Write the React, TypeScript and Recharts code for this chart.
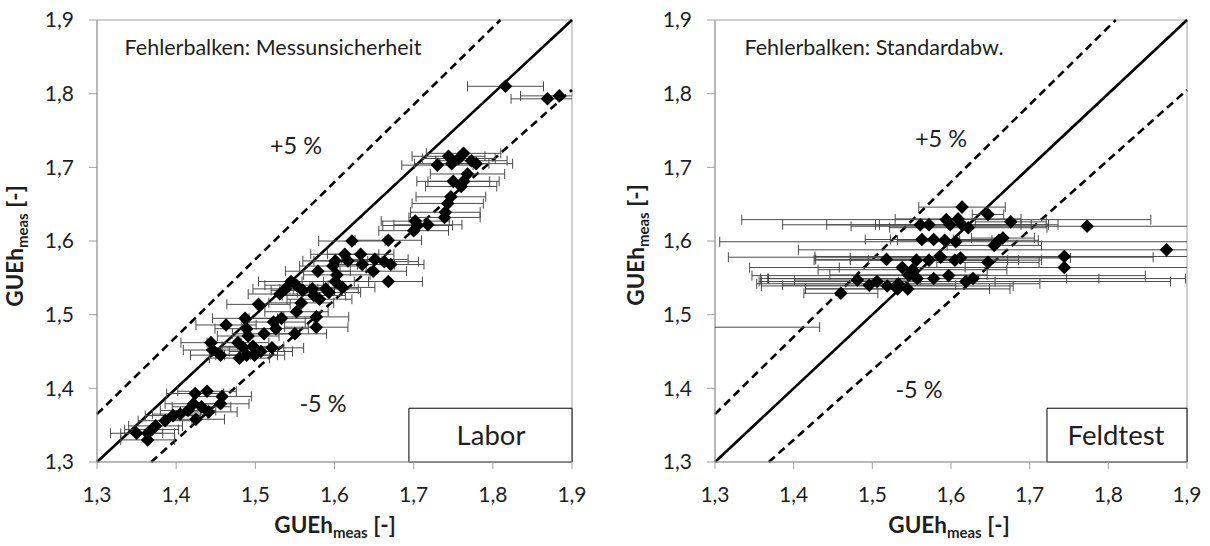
import { ScatterChart, Scatter, XAxis, YAxis, ErrorBar, ReferenceLine, ReferenceArea } from 'recharts';

const ticks = [1.3, 1.4, 1.5, 1.6, 1.7, 1.8, 1.9];

// Labor: GUEh (x), GUEh (y), x-uncertainty
const laborX = [
  1.816, 1.869, 1.884, 1.73, 1.744, 1.748, 1.757, 1.763, 1.773, 1.779, 1.768, 1.763, 1.75, 1.76, 1.747,
  1.743, 1.74, 1.739, 1.702, 1.705, 1.718, 1.7, 1.668, 1.622, 1.613, 1.633, 1.617, 1.651, 1.663, 1.671,
  1.601, 1.598, 1.635, 1.649, 1.668, 1.579, 1.603, 1.61, 1.601, 1.589, 1.593, 1.572, 1.574, 1.581, 1.56,
  1.545, 1.552, 1.538, 1.531, 1.558, 1.552, 1.577, 1.577, 1.55, 1.533, 1.523, 1.526, 1.504, 1.487, 1.463,
  1.489, 1.491, 1.511, 1.444, 1.446, 1.456, 1.478, 1.485, 1.497, 1.507, 1.48, 1.489, 1.499, 1.521, 1.424,
  1.439, 1.458, 1.456, 1.422, 1.432, 1.441, 1.415, 1.425, 1.405, 1.396, 1.386, 1.374, 1.364, 1.369, 1.35,
  1.364,
];
const laborY = [
  1.81, 1.793, 1.797, 1.703, 1.715, 1.705, 1.712, 1.719, 1.709, 1.705, 1.691, 1.681, 1.681, 1.674, 1.66,
  1.651, 1.639, 1.632, 1.627, 1.621, 1.622, 1.614, 1.601, 1.6, 1.582, 1.582, 1.573, 1.575, 1.572, 1.568,
  1.573, 1.566, 1.568, 1.559, 1.545, 1.559, 1.554, 1.537, 1.545, 1.535, 1.53, 1.535, 1.526, 1.521, 1.533,
  1.545, 1.54, 1.535, 1.528, 1.516, 1.504, 1.497, 1.483, 1.474, 1.495, 1.49, 1.481, 1.514, 1.495, 1.486,
  1.481, 1.471, 1.474, 1.462, 1.452, 1.445, 1.462, 1.455, 1.457, 1.45, 1.441, 1.445, 1.445, 1.455, 1.393,
  1.396, 1.389, 1.379, 1.379, 1.375, 1.368, 1.37, 1.358, 1.365, 1.363, 1.356, 1.349, 1.339, 1.344, 1.339,
  1.33,
];
const laborErr = [
  0.048, 0.046, 0.049, 0.045, 0.046, 0.047, 0.046, 0.047, 0.045, 0.046, 0.047, 0.045, 0.046, 0.045, 0.044,
  0.045, 0.044, 0.045, 0.043, 0.044, 0.043, 0.044, 0.042, 0.042, 0.043, 0.042, 0.043, 0.042, 0.043, 0.042,
  0.041, 0.042, 0.041, 0.042, 0.043, 0.041, 0.042, 0.041, 0.042, 0.041, 0.04, 0.041, 0.04, 0.041, 0.04,
  0.041, 0.04, 0.041, 0.04, 0.041, 0.04, 0.041, 0.04, 0.04, 0.041, 0.04, 0.041, 0.04, 0.041, 0.038,
  0.04, 0.039, 0.04, 0.038, 0.037, 0.038, 0.039, 0.038, 0.039, 0.04, 0.038, 0.039, 0.038, 0.04, 0.036,
  0.037, 0.037, 0.036, 0.036, 0.037, 0.036, 0.035, 0.036, 0.035, 0.035, 0.034, 0.034, 0.034, 0.034, 0.033,
  0.034,
];

// Feldtest: GUEh (x), GUEh (y), standard deviation in x
const feldX = [
  1.614, 1.647, 1.594, 1.609, 1.561, 1.572, 1.599, 1.614, 1.622, 1.676, 1.773, 1.563, 1.578, 1.592, 1.606,
  1.661, 1.666, 1.655, 1.874, 1.518, 1.556, 1.572, 1.587, 1.605, 1.612, 1.647, 1.744, 1.744, 1.538, 1.551,
  1.546, 1.481, 1.496, 1.506, 1.519, 1.533, 1.545, 1.557, 1.578, 1.597, 1.619, 1.628, 1.46, 1.532, 1.28,
];
const feldY = [
  1.646, 1.636, 1.629, 1.63, 1.622, 1.622, 1.622, 1.622, 1.618, 1.626, 1.62, 1.602, 1.602, 1.601, 1.599,
  1.601, 1.604, 1.594, 1.588, 1.575, 1.574, 1.574, 1.578, 1.574, 1.577, 1.571, 1.579, 1.564, 1.564, 1.561,
  1.554, 1.547, 1.54, 1.545, 1.539, 1.542, 1.535, 1.549, 1.549, 1.553, 1.545, 1.549, 1.529, 1.535, 1.483,
];
const feldErr = [
  0.055, 0.02, 0.26, 0.08, 0.175, 0.13, 0.09, 0.11, 0.1, 0.045, 0.3, 0.04, 0.087, 0.06, 0.3,
  0.05, 0.04, 0.06, 0.468, 0.09, 0.13, 0.1, 0.27, 0.11, 0.14, 0.065, 0.317, 0.4, 0.08, 0.12,
  0.1, 0.08, 0.11, 0.15, 0.16, 0.18, 0.13, 0.19, 0.21, 0.25, 0.26, 0.27, 0.047, 0.117, 0.153,
];

// 1:1 line and the +/-5 % band
const lineOne = [{ x: 1.3, y: 1.3 }, { x: 1.9, y: 1.9 }];
const linePlus = [{ x: 1.3, y: 1.365 }, { x: 1.8095, y: 1.9 }];
const lineMinus = [{ x: 1.3684, y: 1.3 }, { x: 1.9, y: 1.805 }];

const toRows = (xs: number[], ys: number[], es: number[]) => xs.map((x, i) => ({ x, y: ys[i], err: es[i] }));
const laborData = toRows(laborX, laborY, laborErr);
const feldData = toRows(feldX, feldY, feldErr);

const fmt = (v: number) => v.toFixed(1).replace('.', ',');
const FONT = 'Lato, "Open Sans", sans-serif';
const TXT = '#1e1e1e';
const AXIS = '#a0a0a0';
const H = 546;
const TOP = 20;
const BOTTOM = 84; // plot bottom at y = 462

const Diamond = (props: any) => {
  const { cx, cy } = props;
  if (cx == null || cy == null) return null;
  const r = 6.8;
  return <path d={`M${cx},${cy - r}L${cx + r},${cy}L${cx},${cy + r}L${cx - r},${cy}Z`} fill="#000" />;
};

interface PanelProps { data: any[]; width: number; yWidth: number; right: number; boxX: number }

function Panel({ data, width, yWidth, right, boxX }: PanelProps) {
  const tickStyle = { fill: TXT, fontSize: 21, fontFamily: FONT };
  return (
    <div style={{ position: 'relative', width, height: H }}>
      {/* axes, frame, reference lines */}
      <div style={{ position: 'absolute', left: 0, top: 0 }}>
        <ScatterChart width={width} height={H} margin={{ top: TOP, right, bottom: BOTTOM - 40, left: 0 }}>
          <XAxis
            type="number" dataKey="x" domain={[1.3, 1.9]} ticks={ticks} tickFormatter={fmt}
            allowDataOverflow height={40} tick={tickStyle} tickSize={7} tickMargin={18} stroke={AXIS}
          />
          <YAxis
            type="number" dataKey="y" domain={[1.3, 1.9]} ticks={ticks} tickFormatter={fmt}
            allowDataOverflow width={yWidth} tick={tickStyle} tickSize={8} tickMargin={15} stroke={AXIS}
          />
          <ReferenceArea x1={1.3} x2={1.9} y1={1.3} y2={1.9} fill="none" stroke={AXIS} strokeWidth={1} />
          <ReferenceArea x1={boxX} x2={1.9} y1={1.3} y2={1.373} fill="#fff" fillOpacity={1} stroke="#000" strokeWidth={1} />
          <ReferenceLine segment={lineOne} stroke="#000" strokeWidth={2.6} />
          <ReferenceLine segment={linePlus} stroke="#000" strokeWidth={2.6} strokeDasharray="8 5" />
          <ReferenceLine segment={lineMinus} stroke="#000" strokeWidth={2.6} strokeDasharray="8 5" />
        </ScatterChart>
      </div>
      {/* points with error bars, clipped to the plot area */}
      <div style={{ position: 'absolute', left: 0, top: 0, clipPath: `inset(${TOP}px ${right}px ${BOTTOM}px ${yWidth}px)` }}>
        <ScatterChart width={width} height={H} margin={{ top: TOP, right, bottom: BOTTOM, left: yWidth }}>
          <XAxis type="number" dataKey="x" domain={[1.3, 1.9]} allowDataOverflow hide />
          <YAxis type="number" dataKey="y" domain={[1.3, 1.9]} allowDataOverflow hide />
          <Scatter data={data} shape={Diamond} isAnimationActive={false}>
            <ErrorBar dataKey="err" direction="x" width={5} stroke="#4a4a4a" strokeWidth={1} isAnimationActive={false} />
          </Scatter>
        </ScatterChart>
      </div>
    </div>
  );
}

const Txt = ({ x, y, size, children, bold }: { x: number; y: number; size: number; children: any; bold?: boolean }) => (
  <div style={{ position: 'absolute', left: x, top: y, fontSize: size, fontWeight: bold ? 700 : 400, transform: 'translate(-50%, -50%)', whiteSpace: 'nowrap', lineHeight: 1, color: TXT }}>
    {children}
  </div>
);

const AxisTitle = () => (
  <span>GUEh<sub style={{ fontSize: 15, verticalAlign: -5 }}>meas</sub> [-]</span>
);

const yTitleStyle = { position: 'absolute' as const, transform: 'translate(-50%, -50%) rotate(-90deg)', fontSize: 22.5, fontWeight: 700, whiteSpace: 'nowrap' as const, lineHeight: 1, color: TXT };

export default function App() {
  return (
    <div style={{ position: 'absolute', left: 0, top: 0, width: 1210, height: H, background: '#fff', fontFamily: FONT, overflow: 'hidden' }}>
      <div style={{ position: 'absolute', left: 0, top: 0 }}>
        <Panel data={laborData} width={600} yWidth={97} right={28} boxX={1.694} />
      </div>
      <div style={{ position: 'absolute', left: 600, top: 0 }}>
        <Panel data={feldData} width={610} yWidth={115} right={23} boxX={1.722} />
      </div>

      <Txt x={273} y={48} size={21.5}>Fehlerbalken: Messunsicherheit</Txt>
      <Txt x={296} y={146} size={23.5}>+5 %</Txt>
      <Txt x={323} y={404} size={23.5}>-5 %</Txt>
      <Txt x={491} y={435} size={27.5}>Labor</Txt>

      <Txt x={874} y={48} size={21.5}>Fehlerbalken: Standardabw.</Txt>
      <Txt x={941} y={139} size={23.5}>+5 %</Txt>
      <Txt x={919} y={390} size={23.5}>-5 %</Txt>
      <Txt x={1116} y={435} size={27.5}>Feldtest</Txt>

      <Txt x={335} y={527} size={22.5} bold><AxisTitle /></Txt>
      <Txt x={949} y={527} size={22.5} bold><AxisTitle /></Txt>
      <div style={{ ...yTitleStyle, left: 17, top: 246 }}><AxisTitle /></div>
      <div style={{ ...yTitleStyle, left: 638, top: 245 }}><AxisTitle /></div>
    </div>
  );
}
